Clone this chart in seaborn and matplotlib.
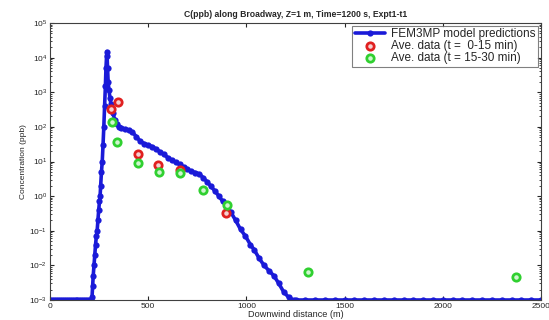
import numpy as np
import pandas as pd
import matplotlib
matplotlib.use('Agg')
import matplotlib.pyplot as plt
import matplotlib.ticker as mticker
import seaborn as sns

# model curve (x in m, C in ppb)
model_x = [0, 10, 20, 30, 40, 50, 60, 70, 80, 90, 100, 110, 120, 130, 140, 150, 160, 170, 180, 190, 200, 210,
           214, 217, 220, 224, 228, 232, 236, 240, 244, 248, 252, 255, 258, 262, 266, 270, 274, 278, 282, 285, 288, 290,
           293, 296, 300, 305, 310, 320, 330, 340, 350, 360, 380, 400, 420, 440, 460, 480, 500, 520, 540, 560, 580,
           600, 620, 640, 660, 680, 700, 720, 740, 760, 780, 800, 820, 840, 860, 880, 900, 920, 945, 970, 995, 1020,
           1040, 1065, 1090, 1115, 1140, 1165, 1190, 1215, 1240,
           1250, 1300, 1350, 1400, 1450, 1500, 1550, 1600, 1650, 1700, 1750, 1800, 1850, 1900, 1950, 2000,
           2050, 2100, 2150, 2200, 2250, 2300, 2350, 2400, 2450, 2500]
model_c = [1e-3, 1e-3, 1e-3, 1e-3, 1e-3, 1e-3, 1e-3, 1e-3, 1e-3, 1e-3, 1e-3, 1e-3, 1e-3, 1e-3, 1e-3, 1e-3,
           1e-3, 1e-3, 1e-3, 1e-3, 1e-3, 1e-3,
           1.2e-3, 2.5e-3, 5e-3, 1e-2, 2e-2, 4e-2, 7e-2, 0.1, 0.2, 0.4, 0.7, 1.0, 2.0, 5.0, 10, 30, 100, 400, 1500,
           5000, 1.1e4, 1.5e4,
           5000, 2000, 1200, 700, 450, 250, 160, 120, 100, 92, 88, 82, 70, 52, 38, 33, 30, 27, 23, 19, 16,
           13, 11, 9.5, 8.2, 7.0, 6.0, 5.2, 4.8, 4.4, 3.4, 2.6, 1.9, 1.4, 1.0, 0.7, 0.5, 0.35, 0.2, 0.11, 0.07, 0.04,
           0.028, 0.016, 0.01, 0.007, 0.005, 0.003, 0.0017, 0.0012, 0.001,
           1e-3, 1e-3, 1e-3, 1e-3, 1e-3, 1e-3, 1e-3, 1e-3, 1e-3, 1e-3, 1e-3, 1e-3, 1e-3, 1e-3, 1e-3, 1e-3,
           1e-3, 1e-3, 1e-3, 1e-3, 1e-3, 1e-3, 1e-3, 1e-3, 1e-3, 1e-3]

# averaged data, 0-15 min
early_x = [311, 347, 449, 551, 663, 898]
early_c = [320, 520, 16, 8, 5.6, 0.32]

# averaged data, 15-30 min
late_x = [316, 342, 449, 556, 663, 780, 903, 1316, 2372]
late_c = [135, 36, 9, 4.9, 4.6, 1.5, 0.55, 6.3e-3, 4.6e-3]

y_ticks = [1e-3, 1e-2, 1e-1, 1e0, 1e1, 1e2, 1e3, 1e4, 1e5]
x_ticks = [0, 500, 1000, 1500, 2000, 2500]

model = pd.DataFrame({'x': model_x, 'c': model_c})
early = pd.DataFrame({'x': early_x, 'c': early_c})
late = pd.DataFrame({'x': late_x, 'c': late_c})

sns.set_style('ticks')
plt.rcParams['font.family'] = ['Liberation Sans', 'DejaVu Sans']
plt.rcParams['xtick.direction'] = 'in'
plt.rcParams['ytick.direction'] = 'in'

fig = plt.figure(figsize=(5.49, 3.20), dpi=100)
ax = fig.add_axes([50 / 549, 20 / 320, 491 / 549, 277 / 320])

sns.lineplot(data=model, x='x', y='c', ax=ax, color='#1a1ad8', linewidth=2.6,
             marker='o', markersize=4.5, markeredgewidth=0, estimator=None, sort=False,
             label='FEM3MP model predictions')
sns.scatterplot(data=early, x='x', y='c', ax=ax, marker='o', s=28, facecolor='#f5d0d0',
                edgecolor='#e02020', linewidth=2, label='Ave. data (t =  0-15 min)', zorder=3)
sns.scatterplot(data=late, x='x', y='c', ax=ax, marker='o', s=28, facecolor='#d0f5d0',
                edgecolor='#30d030', linewidth=2, label='Ave. data (t = 15-30 min)', zorder=3)

ax.set_yscale('log')
ax.set_xlim(0, 2500)
ax.set_ylim(1e-3, 1e5)
ax.set_xticks(x_ticks)
ax.set_yticks(y_ticks)
ax.yaxis.set_minor_locator(mticker.LogLocator(base=10, subs=np.arange(2, 10)))
ax.yaxis.set_minor_formatter(mticker.NullFormatter())
ax.tick_params(which='both', top=True, right=True, labelsize=6)
ax.tick_params(which='major', length=3, pad=2)
ax.tick_params(which='minor', length=1.5)
for s in ax.spines.values():
    s.set_linewidth(0.8)
    s.set_color('#404040')

ax.set_title('C(ppb) along Broadway, Z=1 m, Time=1200 s, Expt1-t1', fontsize=6.2,
             fontweight='bold', pad=4)
ax.set_xlabel('Downwind distance (m)', fontsize=6.6, labelpad=0)
ax.set_ylabel('Concentration (ppb)', fontsize=6, labelpad=2)

leg = ax.legend(loc='upper right', fontsize=8.5, frameon=True, fancybox=False, borderpad=0.2,
                labelspacing=0.0, handlelength=2.6, handletextpad=0.5, borderaxespad=0.25)
leg.get_frame().set_edgecolor('#606060')
leg.get_frame().set_linewidth(0.8)

fig.savefig('out.png', dpi=100)
